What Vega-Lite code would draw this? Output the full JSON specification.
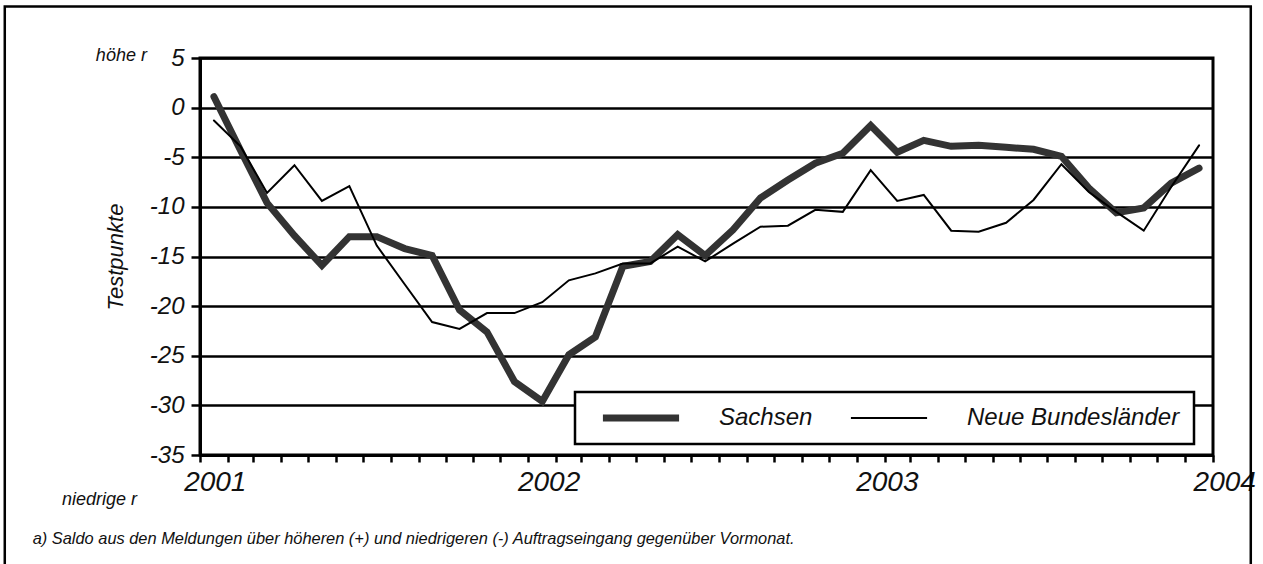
{
  "$schema": "https://vega.github.io/schema/vega-lite/v6.json",
  "autosize": {"type": "none"},
  "width": 1013,
  "height": 397,
  "padding": {"left": 200, "top": 58, "right": 50, "bottom": 109},
  "background": "white",
  "config": {
    "view": {"stroke": "black", "strokeWidth": 3},
    "font": "Liberation Sans",
    "legend": {"strokeWidth": 2.5}
  },
  "resolve": {"axis": {"x": "independent", "y": "independent"}},
  "layer": [
    {
      "data": {"values": [
        {"date": "2001-01-01", "series": "Sachsen", "value": 1.1},
        {"date": "2001-02-01", "series": "Sachsen", "value": -4.3},
        {"date": "2001-03-01", "series": "Sachsen", "value": -9.6},
        {"date": "2001-04-01", "series": "Sachsen", "value": -12.9},
        {"date": "2001-05-01", "series": "Sachsen", "value": -15.9},
        {"date": "2001-06-01", "series": "Sachsen", "value": -13.0},
        {"date": "2001-07-01", "series": "Sachsen", "value": -13.0},
        {"date": "2001-08-01", "series": "Sachsen", "value": -14.2},
        {"date": "2001-09-01", "series": "Sachsen", "value": -14.9},
        {"date": "2001-10-01", "series": "Sachsen", "value": -20.4},
        {"date": "2001-11-01", "series": "Sachsen", "value": -22.6},
        {"date": "2001-12-01", "series": "Sachsen", "value": -27.6},
        {"date": "2002-01-01", "series": "Sachsen", "value": -29.6},
        {"date": "2002-02-01", "series": "Sachsen", "value": -24.9},
        {"date": "2002-03-01", "series": "Sachsen", "value": -23.1},
        {"date": "2002-04-01", "series": "Sachsen", "value": -16.0},
        {"date": "2002-05-01", "series": "Sachsen", "value": -15.5},
        {"date": "2002-06-01", "series": "Sachsen", "value": -12.8},
        {"date": "2002-07-01", "series": "Sachsen", "value": -14.9},
        {"date": "2002-08-01", "series": "Sachsen", "value": -12.3},
        {"date": "2002-09-01", "series": "Sachsen", "value": -9.1},
        {"date": "2002-10-01", "series": "Sachsen", "value": -7.3},
        {"date": "2002-11-01", "series": "Sachsen", "value": -5.6},
        {"date": "2002-12-01", "series": "Sachsen", "value": -4.6},
        {"date": "2003-01-01", "series": "Sachsen", "value": -1.8},
        {"date": "2003-02-01", "series": "Sachsen", "value": -4.5},
        {"date": "2003-03-01", "series": "Sachsen", "value": -3.3},
        {"date": "2003-04-01", "series": "Sachsen", "value": -3.9},
        {"date": "2003-05-01", "series": "Sachsen", "value": -3.8},
        {"date": "2003-06-01", "series": "Sachsen", "value": -4.0},
        {"date": "2003-07-01", "series": "Sachsen", "value": -4.2},
        {"date": "2003-08-01", "series": "Sachsen", "value": -4.9},
        {"date": "2003-09-01", "series": "Sachsen", "value": -8.1},
        {"date": "2003-10-01", "series": "Sachsen", "value": -10.6},
        {"date": "2003-11-01", "series": "Sachsen", "value": -10.1},
        {"date": "2003-12-01", "series": "Sachsen", "value": -7.6},
        {"date": "2004-01-01", "series": "Sachsen", "value": -6.1},
        {"date": "2001-01-01", "series": "Neue Bundesländer", "value": -1.3},
        {"date": "2001-02-01", "series": "Neue Bundesländer", "value": -3.9},
        {"date": "2001-03-01", "series": "Neue Bundesländer", "value": -8.6},
        {"date": "2001-04-01", "series": "Neue Bundesländer", "value": -5.8},
        {"date": "2001-05-01", "series": "Neue Bundesländer", "value": -9.4},
        {"date": "2001-06-01", "series": "Neue Bundesländer", "value": -7.9},
        {"date": "2001-07-01", "series": "Neue Bundesländer", "value": -13.9},
        {"date": "2001-08-01", "series": "Neue Bundesländer", "value": -17.8},
        {"date": "2001-09-01", "series": "Neue Bundesländer", "value": -21.6},
        {"date": "2001-10-01", "series": "Neue Bundesländer", "value": -22.3},
        {"date": "2001-11-01", "series": "Neue Bundesländer", "value": -20.7},
        {"date": "2001-12-01", "series": "Neue Bundesländer", "value": -20.7},
        {"date": "2002-01-01", "series": "Neue Bundesländer", "value": -19.6},
        {"date": "2002-02-01", "series": "Neue Bundesländer", "value": -17.4},
        {"date": "2002-03-01", "series": "Neue Bundesländer", "value": -16.7},
        {"date": "2002-04-01", "series": "Neue Bundesländer", "value": -15.7},
        {"date": "2002-05-01", "series": "Neue Bundesländer", "value": -15.7},
        {"date": "2002-06-01", "series": "Neue Bundesländer", "value": -14.0},
        {"date": "2002-07-01", "series": "Neue Bundesländer", "value": -15.5},
        {"date": "2002-08-01", "series": "Neue Bundesländer", "value": -13.7},
        {"date": "2002-09-01", "series": "Neue Bundesländer", "value": -12.0},
        {"date": "2002-10-01", "series": "Neue Bundesländer", "value": -11.9},
        {"date": "2002-11-01", "series": "Neue Bundesländer", "value": -10.3},
        {"date": "2002-12-01", "series": "Neue Bundesländer", "value": -10.5},
        {"date": "2003-01-01", "series": "Neue Bundesländer", "value": -6.3},
        {"date": "2003-02-01", "series": "Neue Bundesländer", "value": -9.4},
        {"date": "2003-03-01", "series": "Neue Bundesländer", "value": -8.8},
        {"date": "2003-04-01", "series": "Neue Bundesländer", "value": -12.4},
        {"date": "2003-05-01", "series": "Neue Bundesländer", "value": -12.5},
        {"date": "2003-06-01", "series": "Neue Bundesländer", "value": -11.6},
        {"date": "2003-07-01", "series": "Neue Bundesländer", "value": -9.3},
        {"date": "2003-08-01", "series": "Neue Bundesländer", "value": -5.7},
        {"date": "2003-09-01", "series": "Neue Bundesländer", "value": -8.5},
        {"date": "2003-10-01", "series": "Neue Bundesländer", "value": -10.5},
        {"date": "2003-11-01", "series": "Neue Bundesländer", "value": -12.4},
        {"date": "2003-12-01", "series": "Neue Bundesländer", "value": -8.0},
        {"date": "2004-01-01", "series": "Neue Bundesländer", "value": -3.8}
      ]},
      "mark": {"type": "line", "strokeCap": "round", "strokeJoin": "miter"},
      "encoding": {
        "x": {
          "field": "date", "type": "temporal", "timeUnit": "utcyearmonth", "bandPosition": 0.5,
          "scale": {"type": "utc", "domain": [{"year": 2001, "month": 1, "date": 1, "utc": true}, {"year": 2004, "month": 2, "date": 1, "utc": true}], "nice": false},
          "axis": {
            "title": null, "labels": false, "grid": false,
            "tickCount": {"interval": "month", "step": 1},
            "ticks": true, "tickSize": 7, "tickWidth": 2.5, "tickColor": "black",
            "domain": true, "domainColor": "black", "domainWidth": 3
          }
        },
        "y": {
          "field": "value", "type": "quantitative",
          "scale": {"domain": [-35, 5], "nice": false, "zero": false},
          "axis": {
            "title": "Testpunkte", "values": [-35, -30, -25, -20, -15, -10, -5, 0, 5],
            "labelExpr": "'' + datum.value",
            "labelFont": "Liberation Sans", "labelFontStyle": "italic", "labelFontSize": 24, "labelColor": "#111",
            "labelPadding": 7,
            "tickSize": 9, "tickWidth": 2.5, "tickColor": "black",
            "domain": true, "domainColor": "black", "domainWidth": 3,
            "grid": true, "gridColor": "black", "gridWidth": 2.5, "gridOpacity": 1,
            "titleFont": "Liberation Sans", "titleFontStyle": "italic", "titleFontWeight": "normal", "titleFontSize": 22, "titleColor": "#111",
            "titlePadding": 22
          }
        },
        "color": {
          "field": "series", "type": "nominal",
          "scale": {"domain": ["Sachsen", "Neue Bundesländer"], "range": ["#333333", "#000000"]},
          "legend": {
            "title": null, "orient": "none", "legendX": 375, "legendY": 334,
            "direction": "horizontal", "columns": 2,
            "symbolType": "stroke", "symbolSize": 5800, "clipHeight": 24, "symbolOffset": 10,
            "labelFont": "Liberation Sans", "labelFontStyle": "italic", "labelFontSize": 24, "labelColor": "#111",
            "labelOffset": 36, "labelLimit": 400, "columnPadding": 24, "padding": 14,
            "strokeColor": "black", "fillColor": "white"
          }
        },
        "strokeWidth": {
          "field": "series", "type": "nominal",
          "scale": {"domain": ["Sachsen", "Neue Bundesländer"], "range": [7, 2]},
          "legend": null
        }
      }
    },
    {
      "data": {"values": [
        {"year": "2001", "pos": "2001-01-18"},
        {"year": "2002", "pos": "2002-01-24"},
        {"year": "2003", "pos": "2003-02-04"},
        {"year": "2004", "pos": "2004-02-14"}
      ]},
      "mark": {"type": "text", "font": "Liberation Sans", "fontStyle": "italic", "fontSize": 28, "color": "#111", "align": "center", "baseline": "middle"},
      "encoding": {
        "x": {"field": "pos", "type": "temporal", "scale": {"type": "utc"}, "axis": null},
        "y": {"datum": -37.8, "type": "quantitative", "axis": null},
        "text": {"field": "year"}
      }
    },
    {
      "data": {"values": [{}]},
      "mark": {"type": "text", "font": "Liberation Sans", "fontStyle": "italic", "fontSize": 18, "color": "#111", "align": "right", "baseline": "middle", "text": "höhe r"},
      "encoding": {
        "x": {"datum": {"year": 2000, "month": 11, "date": 3, "utc": true}, "type": "temporal", "scale": {"type": "utc"}, "axis": null},
        "y": {"datum": 5.2, "type": "quantitative", "axis": null}
      }
    },
    {
      "data": {"values": [{}]},
      "mark": {"type": "text", "font": "Liberation Sans", "fontStyle": "italic", "fontSize": 18, "color": "#111", "align": "right", "baseline": "middle", "text": "niedrige r"},
      "encoding": {
        "x": {"datum": {"year": 2000, "month": 10, "date": 23, "utc": true}, "type": "temporal", "scale": {"type": "utc"}, "axis": null},
        "y": {"datum": -39.5, "type": "quantitative", "axis": null}
      }
    },
    {
      "data": {"values": [{}]},
      "mark": {"type": "text", "font": "Liberation Sans", "fontStyle": "italic", "fontSize": 16.4, "color": "#111", "align": "left", "baseline": "middle", "text": "a) Saldo aus den Meldungen über höheren (+) und niedrigeren (-) Auftragseingang gegenüber Vormonat."},
      "encoding": {
        "x": {"datum": {"year": 2000, "month": 6, "date": 29, "utc": true}, "type": "temporal", "scale": {"type": "utc"}, "axis": null},
        "y": {"datum": -43.5, "type": "quantitative", "axis": null}
      }
    },
    {
      "data": {"values": [{}]},
      "mark": {"type": "rect", "fill": null, "fillOpacity": 0, "stroke": "black", "strokeWidth": 2.5},
      "encoding": {
        "x": {"datum": {"year": 2000, "month": 5, "date": 29, "utc": true}, "type": "temporal", "scale": {"type": "utc"}, "axis": null},
        "x2": {"datum": {"year": 2004, "month": 3, "date": 14, "utc": true}},
        "y": {"datum": 10.2, "type": "quantitative", "axis": null},
        "y2": {"datum": -47}
      }
    }
  ]
}
